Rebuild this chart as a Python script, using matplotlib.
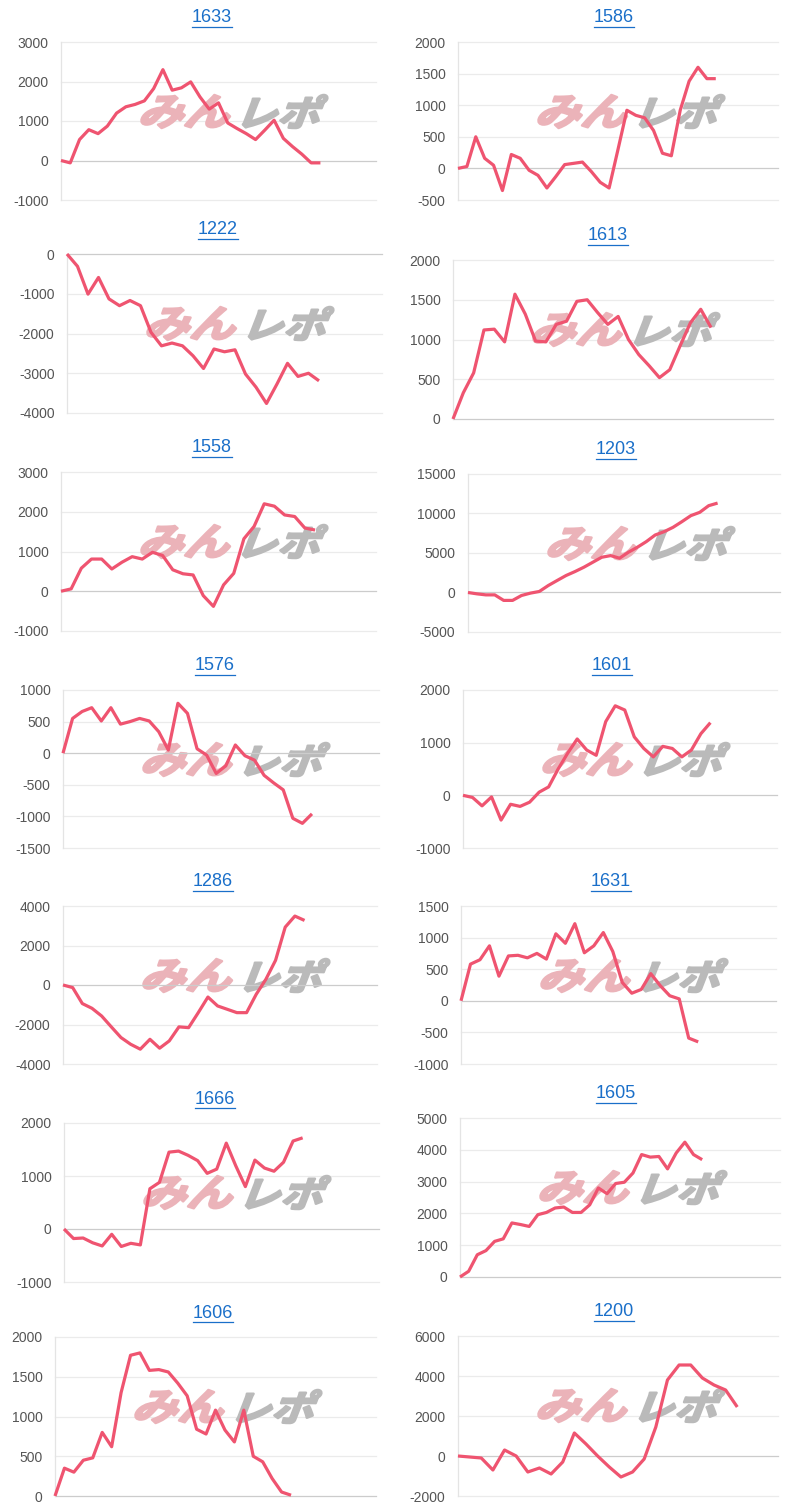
import matplotlib
matplotlib.use('Agg')
import matplotlib.pyplot as plt
import numpy as np
from matplotlib.textpath import TextPath
from matplotlib.font_manager import FontProperties
from matplotlib.patches import PathPatch
from matplotlib.path import Path
from matplotlib.lines import Line2D

# ---------------- data ----------------
titles = ['1633', '1586', '1222', '1613', '1558', '1203', '1576',
          '1601', '1286', '1631', '1666', '1605', '1606', '1200']

s1633 = [0, -60, 530, 780, 680, 870, 1200, 1360, 1420, 1510, 1820, 2300, 1780, 1840, 1990,
         1610, 1300, 1460, 950, 810, 680, 530, 770, 1020, 560, 350, 160, -60, -60]
s1586 = [0, 30, 500, 160, 50, -350, 220, 160, -30, -110, -310, -130, 60, 80, 100, -50, -220,
         -310, 300, 920, 840, 800, 600, 240, 200, 920, 1380, 1600, 1420, 1420]
s1222 = [0, -310, -1010, -590, -1130, -1300, -1170, -1300, -1970, -2310, -2240, -2310, -2560,
         -2880, -2390, -2460, -2410, -3020, -3350, -3760, -3270, -2750, -3080, -3000, -3190]
s1613 = [0, 330, 580, 1120, 1130, 970, 1570, 1320, 980, 970, 1190, 1230, 1480, 1500, 1340,
         1190, 1290, 1000, 810, 670, 520, 620, 920, 1210, 1380, 1150]
s1558 = [0, 60, 580, 810, 810, 560, 730, 870, 810, 980, 900, 540, 440, 410, -110, -380, 160,
         450, 1320, 1630, 2200, 2140, 1920, 1880, 1590, 1540]
s1203 = [0, -170, -300, -300, -1000, -1000, -380, -80, 130, 880, 1520, 2150, 2650, 3200, 3830,
         4460, 4670, 4340, 5100, 5730, 6440, 7280, 7700, 8250, 8970, 9730, 10150, 10990, 11320]
s1576 = [0, 550, 660, 720, 510, 720, 460, 500, 550, 510, 340, 50, 790, 630, 70, -30, -320,
         -200, 130, -40, -110, -350, -470, -580, -1030, -1110, -960]
s1601 = [0, -40, -200, -30, -470, -170, -210, -130, 60, 160, 500, 800, 1070, 860, 760, 1400,
         1700, 1620, 1110, 890, 730, 930, 890, 730, 860, 1170, 1380]
s1286 = [0, -130, -940, -1180, -1570, -2120, -2660, -3000, -3250, -2750, -3200, -2830, -2120,
         -2160, -1400, -610, -1060, -1230, -1400, -1400, -470, 290, 1250, 2930, 3490, 3270]
s1631 = [0, 580, 650, 870, 390, 710, 720, 680, 750, 660, 1060, 910, 1220, 760, 870, 1080, 780,
         290, 120, 180, 430, 240, 80, 30, -590, -650]
s1666 = [0, -180, -170, -260, -320, -100, -330, -270, -300, 760, 880, 1450, 1470, 1390, 1290,
         1050, 1130, 1620, 1190, 800, 1300, 1150, 1090, 1260, 1660, 1720]
s1605 = [0, 180, 700, 830, 1120, 1200, 1700, 1650, 1590, 1960, 2030, 2170, 2200, 2030, 2030,
         2270, 2800, 2620, 2940, 2980, 3270, 3850, 3770, 3790, 3400, 3900, 4240, 3850, 3690]
s1606 = [0, 350, 300, 450, 480, 800, 620, 1300, 1770, 1800, 1580, 1590, 1560, 1420, 1260, 840,
         780, 1080, 830, 680, 1080, 500, 430, 220, 50, 10]
s1200 = [0, -50, -100, -700, 300, 0, -800, -600, -900, -300, 1150, 600, 0, -550, -1050, -800,
         -150, 1450, 3800, 4550, 4550, 3900, 3550, 3300, 2450]

series = [s1633, s1586, s1222, s1613, s1558, s1203, s1576,
          s1601, s1286, s1631, s1666, s1605, s1606, s1200]

y_min = [-1000, -500, -4000, 0, -1000, -5000, -1500, -1000, -4000, -1000, -1000, 0, 0, -2000]
y_max = [3000, 2000, 0, 2000, 3000, 15000, 1000, 2000, 4000, 1500, 2000, 5000, 2000, 6000]
y_step = [1000, 500, 1000, 500, 1000, 5000, 500, 1000, 2000, 500, 1000, 1000, 500, 2000]
x_slots = [34, 36, 30, 31, 31, 35, 33, 33, 32.5, 33.2, 33, 37, 34, 27.5]

# ---------------- layout (pixels: left, top, right, bottom) ----------------
W, H = 800, 1512
boxes = [
    (61, 42, 376, 200), (458, 42, 778, 200),
    (67, 254, 382, 413), (453, 260, 773, 419),
    (61, 472, 376, 631), (468, 474, 780, 632),
    (63, 690, 379, 848), (463, 690, 777, 848),
    (63, 906, 377, 1064), (461, 906, 776, 1064),
    (64, 1123, 379, 1282), (460, 1118, 780, 1277),
    (55, 1337, 376, 1496), (458, 1336, 778, 1496),
]
title_x = [212, 614, 218, 608, 212, 616, 215, 612, 213, 611, 215, 616, 213, 614]

LINE = '#ef5470'
BLUE = '#1a6fc9'
FONT = 'Liberation Sans'

fig = plt.figure(figsize=(W / 100, H / 100), dpi=100)
fig.patch.set_facecolor('white')

logo_prop = FontProperties(family='Noto Sans CJK JP', weight='bold')


def logo_patch(text, x0, x1, ytop, ybot, color):
    tp = TextPath((0, 0), text, size=100, prop=logo_prop)
    v = tp.vertices.copy()
    v[:, 0] = v[:, 0] + np.tan(np.radians(18)) * v[:, 1]
    mnx, mny = v[:, 0].min(), v[:, 1].min()
    mxx, mxy = v[:, 0].max(), v[:, 1].max()
    fx = x0 + (v[:, 0] - mnx) / (mxx - mnx) * (x1 - x0)
    fy = ybot - (v[:, 1] - mny) / (mxy - mny) * (ybot - ytop)
    nv = np.column_stack([fx / W, 1 - fy / H])
    return PathPatch(Path(nv, tp.codes), facecolor=color, edgecolor=color, lw=1.8,
                     joinstyle='round', transform=fig.transFigure, zorder=1.5, clip_on=False)


title_artists = []
for i in range(14):
    L, T, R, B = boxes[i]
    ax = fig.add_axes([L / W, 1 - B / H, (R - L) / W, (B - T) / H])
    ax.set_facecolor('none')
    ys = series[i]
    xs = np.arange(len(ys))
    ticks = np.arange(y_min[i], y_max[i] + 1, y_step[i])
    for t in ticks:
        ax.axhline(t, color='#cccccc' if t == 0 else '#ebebeb', lw=0.9,
                   zorder=2 if t == 0 else 1, clip_on=False)
    ax.plot(xs, ys, color=LINE, lw=2.3, zorder=3, solid_joinstyle='round',
            solid_capstyle='butt', clip_on=False)
    ax.set_xlim(0, x_slots[i])
    ax.set_ylim(y_min[i], y_max[i])
    ax.set_yticks(ticks)
    ax.set_yticklabels([str(int(t)) for t in ticks], family=FONT)
    ax.set_xticks([])
    for s in ['top', 'right', 'bottom']:
        ax.spines[s].set_visible(False)
    ax.spines['left'].set_color('#e4e4e4')
    ax.spines['left'].set_linewidth(0.9)
    ax.tick_params(axis='y', length=0, pad=9, labelsize=10, labelcolor='#555555')

    # watermark logo
    ax.add_artist(logo_patch('みん', L + 76, L + 169, T + 53, T + 86, '#ebb3b9'))
    ax.add_artist(logo_patch('レポ', L + 173, L + 267, T + 53, T + 86, '#bababa'))

    t = fig.text(title_x[i] / W, 1 - (T - 24) / H, titles[i], ha='center', va='center',
                 fontsize=13, color=BLUE, family=FONT)
    title_artists.append(t)

fig.canvas.draw()
renderer = fig.canvas.get_renderer()
for t in title_artists:
    bb = t.get_window_extent(renderer)
    y = (bb.y0 - 0.5) / H
    fig.add_artist(Line2D([bb.x0 / W, bb.x1 / W], [y, y], transform=fig.transFigure,
                          color=BLUE, lw=0.9))

fig.savefig('out.png', dpi=100, facecolor='white')
